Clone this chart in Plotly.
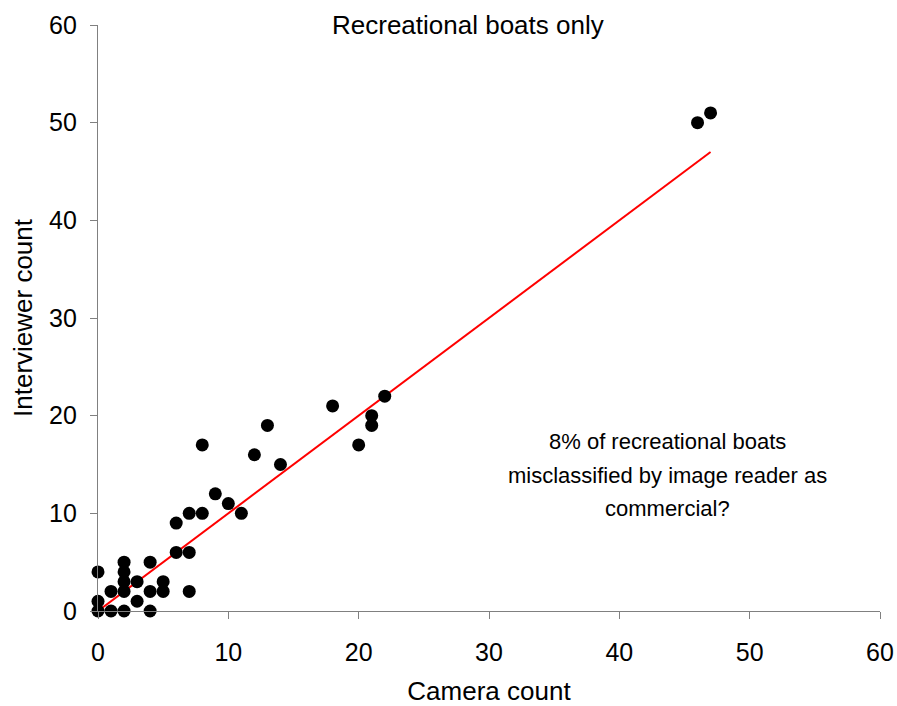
import plotly.graph_objects as go

# Paired boat counts: camera image reader vs. on-site interviewer
camera_count = [0, 0, 0, 1, 1, 2, 2, 2, 2, 2, 3, 3, 4, 4, 4, 5, 5,
                6, 6, 7, 7, 7, 8, 8, 9, 10, 11, 12, 13, 14, 18, 20,
                21, 21, 22, 46, 47]
interviewer_count = [4, 1, 0, 2, 0, 5, 4, 3, 2, 0, 3, 1, 5, 2, 0, 3, 2,
                     6, 9, 6, 2, 10, 10, 17, 12, 11, 10, 16, 19, 15, 21, 17,
                     20, 19, 22, 50, 51]

# Fitted line through the origin
fit_slope = 1.0
fit_x = [0, max(camera_count)]
fit_y = [fit_slope * v for v in fit_x]

tick_vals = [0, 10, 20, 30, 40, 50, 60]

note_lines = ["8% of recreational boats",
              "misclassified by image reader as",
              "commercial?"]

font_family = "Liberation Sans, Arial, sans-serif"

fig = go.Figure()
fig.add_trace(go.Scatter(
    x=fit_x, y=fit_y, mode="lines",
    line=dict(color="#ff0000", width=2),
    showlegend=False, hoverinfo="skip", cliponaxis=False,
))
fig.add_trace(go.Scatter(
    x=camera_count, y=interviewer_count, mode="markers",
    marker=dict(color="black", size=13),
    showlegend=False, cliponaxis=False,
))

axis_common = dict(
    range=[0, 60], tickvals=tick_vals, showgrid=False, zeroline=False,
    showline=True, linecolor="#808080", linewidth=1.3,
    ticks="outside", ticklen=7, tickcolor="#808080", tickwidth=1.3,
    tickfont=dict(family=font_family, size=25, color="black"),
    automargin=False,
)

# Text box: one annotation per line, spaced evenly around its centre
note_x, note_y, note_step = 43.7, 13.9, 3.45
annotations = [
    dict(x=28.4, y=60, xref="x", yref="y", text="Recreational boats only",
         showarrow=False, yanchor="middle",
         font=dict(family=font_family, size=26, color="black")),
]
for i, line in enumerate(note_lines):
    annotations.append(dict(
        x=note_x, y=note_y + (1 - i) * note_step, xref="x", yref="y",
        text=line, showarrow=False, yanchor="middle",
        font=dict(family=font_family, size=22, color="black"),
    ))

fig.update_layout(
    width=897, height=706,
    margin=dict(l=98, r=17, t=25, b=95),
    paper_bgcolor="white", plot_bgcolor="white",
    xaxis=dict(**axis_common, ticklabelstandoff=12,
               title=dict(text="Camera count", standoff=16,
                          font=dict(family=font_family, size=26, color="black"))),
    yaxis=dict(**axis_common, ticklabelstandoff=8,
               title=dict(text="Interviewer count", standoff=8,
                          font=dict(family=font_family, size=26, color="black"))),
    annotations=annotations,
)

fig.write_html("out.html")
